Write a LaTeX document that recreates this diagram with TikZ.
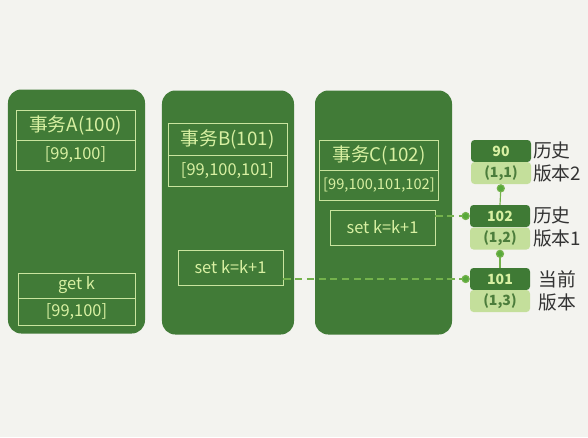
\documentclass[tikz,border=0pt]{standalone}
\usepackage{fontspec}
\setmainfont{Noto Sans CJK SC}
\usetikzlibrary{positioning, arrows.meta}

\definecolor{bg}{HTML}{F3F3EF}
\definecolor{panel}{HTML}{417B37}
\definecolor{cline}{HTML}{C9E49E}
\definecolor{ctext}{HTML}{D8F0A2}
\definecolor{vdark}{HTML}{3F7A35}
\definecolor{vlight}{HTML}{C4DF9B}
\definecolor{vtext}{HTML}{4C7D3C}
\definecolor{linkgreen}{HTML}{74B24C}
\definecolor{dotgreen}{HTML}{58A93B}

\tikzset{
  panel/.style={fill=panel, rounded corners=0.4cm, inner sep=0pt, minimum width=4.11cm, minimum height=7.32cm},
  cell/.style={draw=cline, line width=0.8pt, text=ctext, inner sep=0pt, minimum width=3.57cm, minimum height=0.9cm},
  title/.style={cell, font=\fontsize{16}{16}\selectfont},
  ids/.style={cell, font=\fontsize{14}{14}\selectfont},
  setbox/.style={cell, minimum width=3.15cm, minimum height=1.05cm, font=\fontsize{14}{14}\selectfont},
  ver/.style={fill=vdark, text=ctext, rounded corners=3pt, inner sep=0pt, minimum width=1.8cm, minimum height=0.66cm, font=\bfseries\fontsize{12}{12}\selectfont},
  trx/.style={fill=vlight, text=vtext, rounded corners=3pt, inner sep=0pt, minimum width=1.8cm, minimum height=0.66cm, font=\bfseries\fontsize{12}{12}\selectfont},
  lab/.style={align=left, text=black!80, font=\fontsize{16}{20}\selectfont},
  link/.style={draw=linkgreen, line width=1pt, dash pattern=on 6pt off 4pt, -{Circle[length=7pt, fill=dotgreen]}},
  up/.style={draw=linkgreen, line width=1pt, -{Circle[length=7pt, fill=dotgreen]}}
}

\begin{document}
\begin{tikzpicture}[x=0.03cm, y=-0.03cm]
  \fill[bg] (0,0) rectangle (588,437);
  \useasboundingbox (0,0) rectangle (588,437);

  % three transactions
  \node[panel] (pa) at (76.5,211.5) {};
  \node[panel, minimum width=3.96cm] (pb) at (228,212.5) {};
  \node[panel] (pc) at (383.5,212.5) {};

  \node[title] (ta) at (75.5,125) {事务A(100)};
  \node[ids] (ia) at (75.5,155) {[99,100]};
  \node[ids, minimum width=3.51cm, minimum height=0.75cm] (ga) at (76.5,285.5) {get k};
  \node[ids, minimum width=3.51cm, minimum height=0.81cm] (ra) at (76.5,311.5) {[99,100]};

  \node[title, minimum height=0.96cm] (tb) at (227.5,139) {事务B(101)};
  \node[ids, minimum height=0.93cm] (ib) at (227.5,170.5) {[99,100,101]};
  \node[setbox] (sb) at (230.5,267.5) {set k=k+1};

  \node[title] (tc) at (379,155) {事务C(102)};
  \node[ids, font=\fontsize{12.5}{13}\selectfont] (ic) at (379,185) {[99,100,101,102]};
  \node[setbox] (sc) at (382.5,227.5) {set k=k+1};

  % version chain
  \node[ver] (v90) at (501,151) {90};
  \node[trx] (x90) at (501,173) {(1,1)};
  \node[ver] (v102) at (500,216) {102};
  \node[trx] (x102) at (500,238.5) {(1,2)};
  \node[ver] (v101) at (500,279) {101};
  \node[trx] (x101) at (500,301) {(1,3)};

  \node[lab] (l2) at (557,162) {历史\\版本2};
  \node[lab] (l1) at (557,227) {历史\\版本1};
  \node[lab] (l0) at (557,291) {当前\\版本};

  \draw[link] (v101.west -| sb.east) -- (v101.west);
  \draw[link] (v102.west -| sc.east) -- (v102.west);
  \draw[up] (v102.north) -- (x90.south);
  \draw[up] (v101.north) -- (x102.south);
\end{tikzpicture}
\end{document}
